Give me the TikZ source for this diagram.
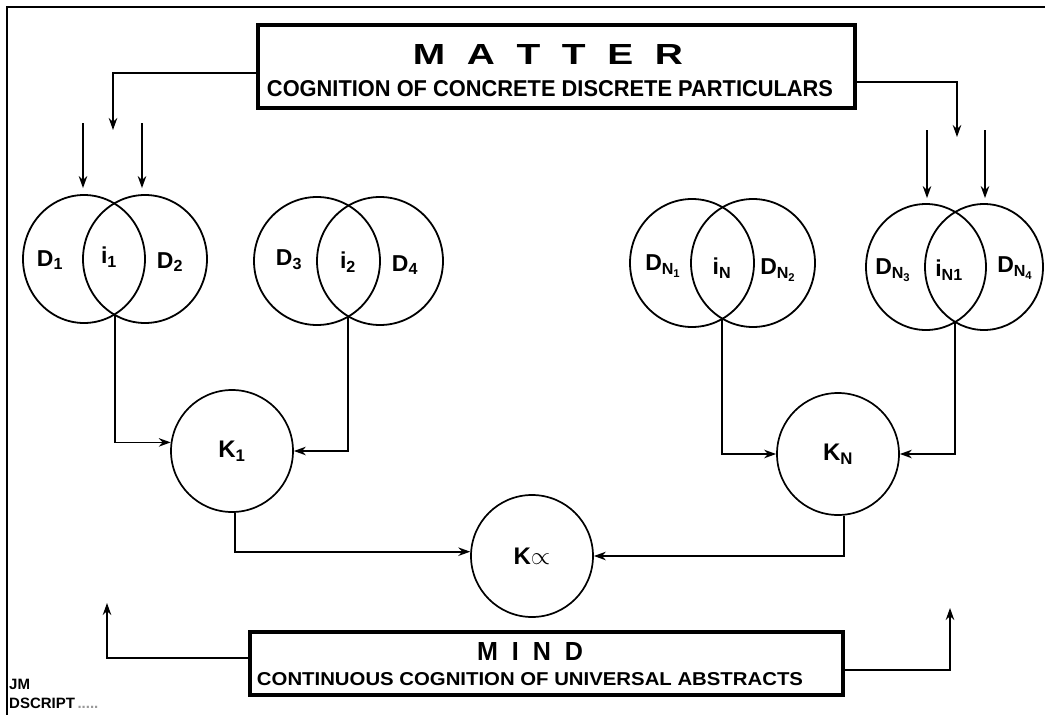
\documentclass[tikz,border=0pt]{standalone}
\usepackage{fontspec}
\setmainfont{Liberation Sans}
\usepackage{graphicx}
\usetikzlibrary{shapes.geometric,arrows.meta}
\begin{document}
\begin{tikzpicture}[x=1pt,y=-1pt,
  venn/.style={draw, ellipse, line width=1.8pt, inner sep=0pt, minimum height=128pt},
  kring/.style={draw, ellipse, line width=1.7pt, inner sep=0pt, minimum width=122pt, minimum height=122pt,
                font=\fontsize{24}{26}\selectfont\bfseries},
  lbl/.style={inner sep=0pt, font=\fontsize{23}{25}\selectfont\bfseries},
  wire/.style={line width=1.7pt},
  arr/.style={wire, -{Stealth[length=12pt,width=8.5pt]}},
  panel/.style={draw, line width=3.8pt, inner sep=0pt},
  caption/.style={inner sep=0pt, font=\bfseries}]

% page and frame
\fill[white] (0,0) rectangle (1045,715);
\useasboundingbox (0,0) rectangle (1045,715);
\draw[line width=2pt] (1045,7) -- (7,7) -- (7,715);

% MATTER panel
\node[panel, minimum width=597pt, minimum height=83pt] (matter) at (556.5,66.5) {};
\node[caption] (mattertitle) at (548,54) {\resizebox{270pt}{20pt}{M\ \ A\ \ T\ \ T\ \ E\ \ R}};
\node[caption] (mattersub) at (550,89) {\resizebox{566pt}{16pt}{COGNITION OF CONCRETE DISCRETE PARTICULARS}};

% MIND panel
\node[panel, minimum width=593pt, minimum height=63pt] (mind) at (546.5,663.5) {};
\node[caption] (mindtitle) at (530,651) {\resizebox{106pt}{18pt}{M\ \ I\ \ N\ \ D}};
\node[caption] (mindsub) at (530,679) {\resizebox{546pt}{13pt}{CONTINUOUS COGNITION OF UNIVERSAL ABSTRACTS}};

% overlapping discrete particulars
\node[venn, minimum width=122pt] (d1) at (84,259) {};
\node[venn, minimum width=124pt] (d2) at (145,259) {};
\node[venn, minimum width=126pt] (d3) at (317,261) {};
\node[venn, minimum width=126pt] (d4) at (380,261) {};
\node[venn, minimum width=124pt] (dn1) at (692,263) {};
\node[venn, minimum width=124pt] (dn2) at (753,263) {};
\node[venn, minimum width=120pt, minimum height=126pt] (dn3) at (926,267) {};
\node[venn, minimum width=118pt, minimum height=126pt] (dn4) at (984,267) {};

\node[lbl] (ld1) at (50,260) {D\textsubscript{1}};
\node[lbl] (li1) at (109,257) {i\textsubscript{1}};
\node[lbl] (ld2) at (170,262) {D\textsubscript{2}};
\node[lbl] (ld3) at (289,260) {D\textsubscript{3}};
\node[lbl] (li2) at (348,262) {i\textsubscript{2}};
\node[lbl] (ld4) at (405,265) {D\textsubscript{4}};
\node[lbl] (ldn1) at (663,266) {D\textsubscript{N\textsubscript{1}}};
\node[lbl] (lin) at (722,268) {i\textsubscript{N}};
\node[lbl] (ldn2) at (778,270) {D\textsubscript{N\textsubscript{2}}};
\node[lbl] (ldn3) at (893,270) {D\textsubscript{N\textsubscript{3}}};
\node[lbl] (lin1) at (949,270) {i\textsubscript{N1}};
\node[lbl] (ldn4) at (1015,268) {D\textsubscript{N\textsubscript{4}}};

% lower points where each pair of circles meet
\coordinate (v1) at (115,314);
\coordinate (v2) at (348,316);
\coordinate (v3) at (722,319);
\coordinate (v4) at (955,322);

% knowledge circles
\node[kring] (k1) at (232,451) {K\textsubscript{1}};
\node[kring] (kn) at (838,454) {K\textsubscript{N}};
\node[kring] (ka) at (532,556) {K$\propto$};

% arrows from MATTER
\coordinate (ml) at (113,130);
\coordinate (mr) at (957,137);
\draw[arr] ([yshift=-6.5pt]matter.west) -| (ml);
\draw[arr] ([yshift=-15.5pt]matter.east) -| (mr);

% incoming arrows onto the circles
\coordinate (a1) at (83,123);
\coordinate (a2) at (142,123);
\coordinate (a3) at (927,130);
\coordinate (a4) at (985,130);
\draw[arr, shorten >=6pt] (a1) -- (a1 |- d1.north);
\draw[arr, shorten >=6pt] (a2) -- (a2 |- d2.north);
\draw[arr, shorten >=5pt] (a3) -- (a3 |- dn3.north);
\draw[arr, shorten >=5pt] (a4) -- (a4 |- dn4.north);

% intersections feed the K circles
\draw[arr] (v1) |- (k1.172);
\draw[arr] (v2) |- (k1.east);
\draw[arr] (v3) |- (kn.west);
\draw[arr] (v4) |- (kn.east);
\draw[arr] ([xshift=3pt]k1.south) |- (ka.176);
\draw[arr] ([xshift=6pt]kn.south) |- (ka.east);

% arrows from MIND
\coordinate (nl) at (107,603);
\coordinate (nr) at (950,608);
\draw[arr] ([yshift=5.5pt]mind.west) -| (nl);
\draw[arr] ([yshift=-6.5pt]mind.east) -| (nr);

% corner notes
\node[anchor=west, inner sep=0pt, font=\fontsize{15}{16}\selectfont\bfseries] (jm) at (9,684) {JM};
\node[anchor=west, inner sep=0pt, font=\fontsize{15}{16}\selectfont\bfseries] (dscript) at (9,703) {DSCRIPT\textcolor{black!40}{\,.....}};
\end{tikzpicture}
\end{document}
